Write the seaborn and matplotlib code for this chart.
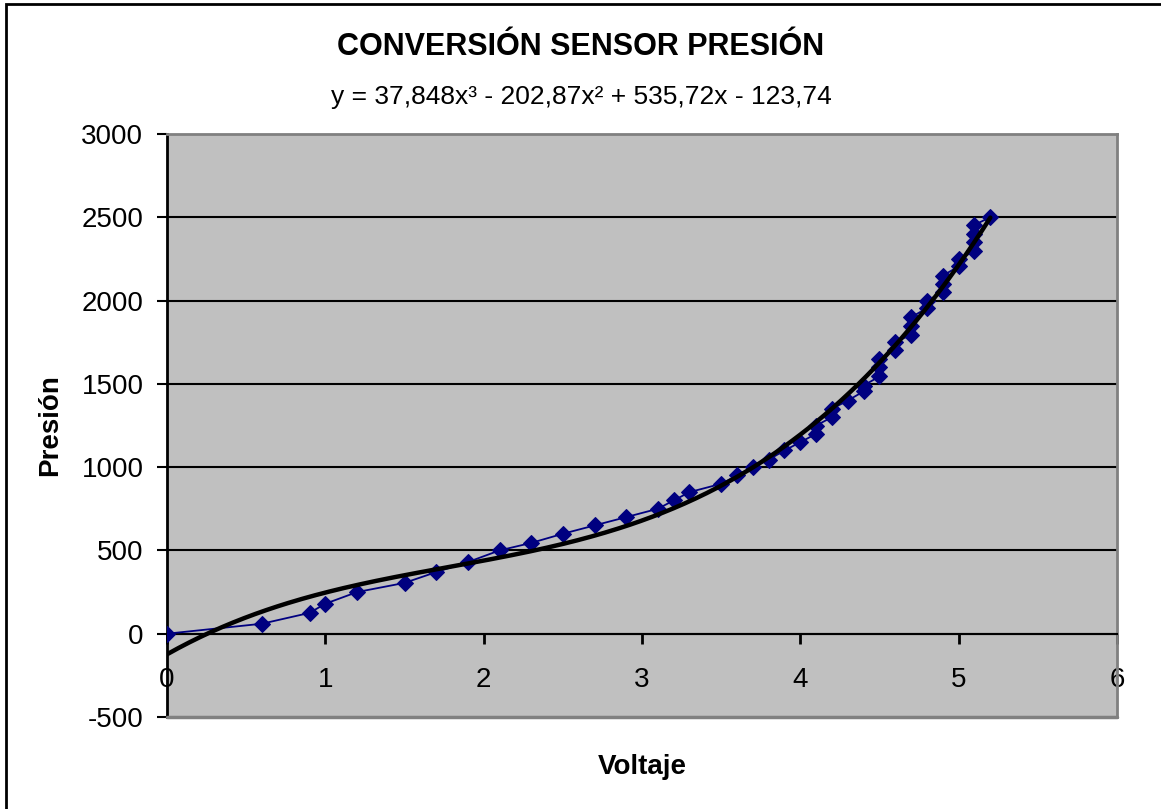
import numpy as np
import pandas as pd
import matplotlib
matplotlib.use("Agg")
import matplotlib.pyplot as plt
from matplotlib.patches import Rectangle
import seaborn as sns

# Measured sensor readings: voltage (V) and pressure
voltaje = [0.0, 0.6, 0.9, 1.0, 1.2, 1.5, 1.7, 1.9, 2.1, 2.3, 2.5, 2.7, 2.9,
           3.1, 3.2, 3.3, 3.5, 3.6, 3.7, 3.8, 3.9, 4.0, 4.1, 4.1, 4.2, 4.2,
           4.3, 4.4, 4.4, 4.5, 4.5, 4.5, 4.6, 4.6, 4.7, 4.7, 4.7, 4.8, 4.8,
           4.9, 4.9, 4.9, 5.0, 5.0, 5.1, 5.1, 5.1, 5.1, 5.2]
presion = [0, 60, 125, 180, 250, 305, 370, 430, 500, 545, 600, 650, 700,
           750, 800, 850, 900, 950, 1000, 1045, 1100, 1150, 1200, 1250, 1300, 1350,
           1400, 1455, 1490, 1545, 1600, 1650, 1705, 1750, 1795, 1850, 1900, 1955, 2000,
           2050, 2100, 2150, 2205, 2250, 2295, 2350, 2400, 2455, 2500]

# Cubic trendline coefficients (highest power first)
coef = [37.848, -202.87, 535.72, -123.74]
titulo = "CONVERSIÓN SENSOR PRESIÓN"
ecuacion = "y = 37,848x³ - 202,87x² + 535,72x - 123,74"
x_ticks = [0, 1, 2, 3, 4, 5, 6]
y_ticks = [-500, 0, 500, 1000, 1500, 2000, 2500, 3000]

df = pd.DataFrame({"Voltaje": voltaje, "Presión": presion})
xt = np.linspace(0, max(voltaje), 300)
trend = pd.DataFrame({"Voltaje": xt, "Presión": np.polyval(coef, xt)})

sns.set_theme(style="white")
plt.rcParams["font.family"] = ["Liberation Sans", "DejaVu Sans"]
plt.rcParams["text.color"] = "black"
plt.rcParams["xtick.color"] = "black"
plt.rcParams["ytick.color"] = "black"
plt.rcParams["xtick.labelcolor"] = "black"
plt.rcParams["ytick.labelcolor"] = "black"

W, H = 1161, 809
fig = plt.figure(figsize=(W / 100, H / 100), dpi=100)
ax = fig.add_axes([167 / W, 1 - 717 / H, (1117 - 167) / W, (717 - 134) / H])
ax.set_facecolor("#C0C0C0")

for yv in y_ticks[1:-1]:
    ax.axhline(yv, color="black", lw=1.5, zorder=1)

sns.lineplot(data=df, x="Voltaje", y="Presión", ax=ax, sort=False, estimator=None,
             color="#000080", lw=1.3, marker="D", markersize=8.5,
             markeredgecolor="#000080", zorder=3)
sns.lineplot(data=trend, x="Voltaje", y="Presión", ax=ax, sort=False, estimator=None,
             color="black", lw=3.2, zorder=4)

ax.set_xlim(0, 6)
ax.set_ylim(-500, 3000)
ax.set_xticks(x_ticks)
ax.set_yticks(y_ticks)
ax.set_xticklabels([str(v) for v in x_ticks])
ax.set_yticklabels([str(v) for v in y_ticks])

for s in ["top", "right"]:
    ax.spines[s].set_color("#808080")
    ax.spines[s].set_linewidth(2)
ax.spines["left"].set_color("black")
ax.spines["left"].set_linewidth(2)
ax.spines["bottom"].set_position(("data", 0))
ax.spines["bottom"].set_color("black")
ax.spines["bottom"].set_linewidth(1.5)
ax.axhline(-500, color="#808080", lw=2.5, clip_on=False, zorder=5)

ax.tick_params(axis="y", which="major", direction="out", length=7, width=1.5,
               color="black", labelcolor="black", pad=10, labelsize=20, left=True)
ax.tick_params(axis="x", which="major", direction="out", length=7, width=2,
               color="black", labelcolor="black", pad=17, labelsize=20, bottom=True)
ax.set_xlabel("")
ax.set_ylabel("")

fig.text(642 / W, 1 - 767 / H, "Voltaje", ha="center", va="center",
         fontsize=20, fontweight="bold", color="black")
fig.text(50 / W, 1 - 425 / H, "Presión", ha="center", va="center",
         rotation=90, fontsize=20, fontweight="bold", color="black")
fig.text(581 / W, 1 - 47 / H, titulo, ha="center", va="center",
         fontsize=22, fontweight="bold", color="black")
fig.text(581 / W, 1 - 97 / H, ecuacion, ha="center", va="center", fontsize=19,
         color="black")

# Chart frame
fig.patches.append(Rectangle((6 / W, -0.1), 1.2, 1 - 4 / H + 0.1, transform=fig.transFigure,
                             fill=False, edgecolor="black", lw=2))

fig.savefig("out.png", dpi=100, facecolor="white")
